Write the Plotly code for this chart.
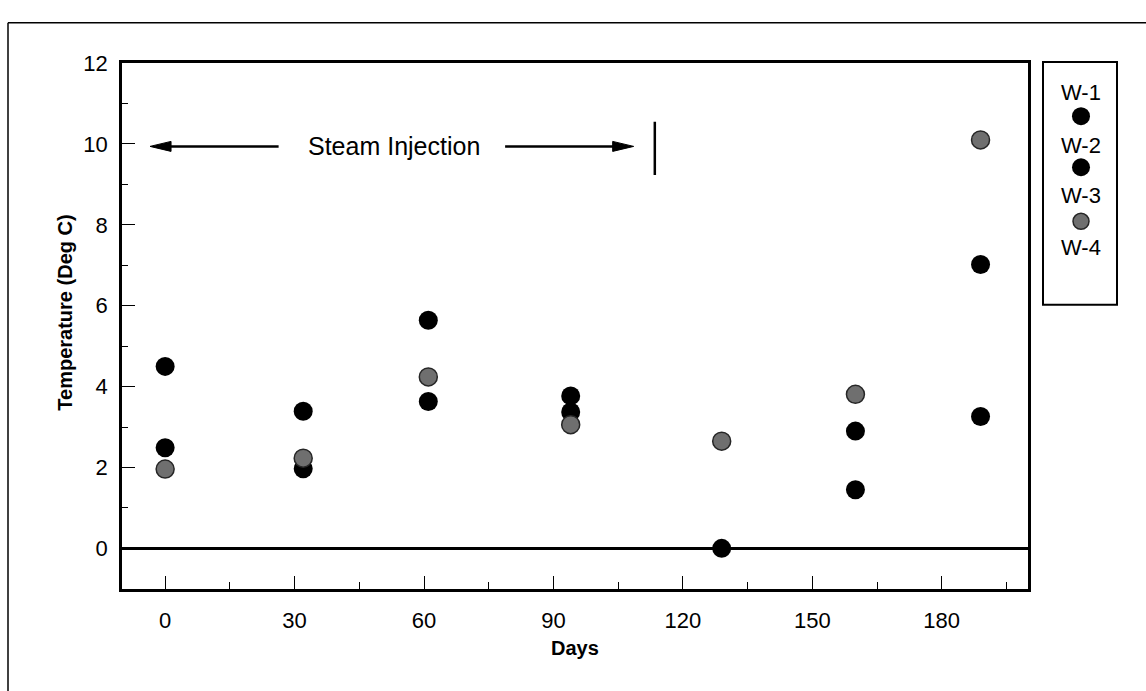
import plotly.graph_objects as go

# Temperature readings at each sampling day, per well
days = [0, 32, 61, 94, 129, 160, 189]
w1 = [4.50, 3.39, 5.64, 3.77, 0.0, 2.90, 7.02]
w2 = [2.49, 1.97, 3.63, 3.37, None, 1.45, 3.26]
w3 = [1.96, 2.23, 4.24, 3.06, 2.65, 3.81, 10.10]
well_names = ["W-1", "W-2", "W-3", "W-4"]
x_ticks = [0, 30, 60, 90, 120, 150, 180]
y_ticks = [0, 2, 4, 6, 8, 10, 12]

# steam injection period marker (days, temperature level)
steam_start, steam_end, steam_bar = -3.5, 108.6, 113.5
steam_level = 9.94

W, H = 1146, 691
FONT = "Liberation Sans, Arial, Helvetica, sans-serif"


def px(x):
    return x / W


def py(y):
    return 1 - y / H


BLACK = "#000000"
GREY = "#6f6f6f"
RIM = "#262626"

fig = go.Figure()

fig.add_trace(go.Scatter(x=days, y=w1, mode="markers", name=well_names[0],
                         marker=dict(size=19, color=BLACK, opacity=1, line=dict(width=0)),
                         cliponaxis=False, showlegend=False))
fig.add_trace(go.Scatter(x=days, y=w2, mode="markers", name=well_names[1],
                         marker=dict(size=19, color=BLACK, opacity=1, line=dict(width=0)),
                         cliponaxis=False, showlegend=False))
fig.add_trace(go.Scatter(x=days, y=w3, mode="markers", name=well_names[2],
                         marker=dict(size=18, color=GREY, opacity=1,
                                     line=dict(width=1.5, color=RIM)),
                         cliponaxis=False, showlegend=False))

# legend key markers, laid out in the legend box (pixel units)
fig.add_trace(go.Scatter(x=[1081, 1081, 1081], y=[106, 158, 213], mode="markers",
                         marker=dict(size=[18, 18, 16], color=[BLACK, BLACK, GREY],
                                     opacity=1,
                                     line=dict(width=[0, 0, 1.5], color=RIM)),
                         xaxis="x2", yaxis="y2", showlegend=False, hoverinfo="skip"))

axis_common = dict(showline=True, linecolor=BLACK, linewidth=2.5, mirror=True,
                   showgrid=False, ticks="inside", tickcolor=BLACK, tickwidth=1,
                   tickfont=dict(family=FONT, size=22, color=BLACK))

fig.update_layout(
    width=W, height=H,
    margin=dict(l=0, r=0, t=0, b=0),
    paper_bgcolor="white", plot_bgcolor="white",
    showlegend=False,
    xaxis=dict(domain=[px(122), px(1028)], range=[-10, 200],
               tickvals=x_ticks, ticklen=13,
               minor=dict(ticks="inside", ticklen=7, dtick=15, tick0=0,
                          tickcolor=BLACK, tickwidth=1),
               ticklabelstandoff=10, zeroline=False,
               anchor="y", **axis_common),
    yaxis=dict(domain=[py(587), py(52)], range=[-1, 12],
               tickvals=y_ticks, ticklen=13,
               minor=dict(ticks="inside", ticklen=6, dtick=1, tick0=0,
                          tickcolor=BLACK, tickwidth=1),
               ticklabelstandoff=7,
               zeroline=True, zerolinecolor=BLACK, zerolinewidth=2.5,
               anchor="x", **axis_common),
    xaxis2=dict(domain=[px(1043), px(1117)], range=[1043, 1117], visible=False,
                anchor="y2", fixedrange=True),
    yaxis2=dict(domain=[py(298), py(51)], range=[298, 51], visible=False,
                anchor="x2", fixedrange=True),
)

shapes = []
# outer page frame (top and left edges)
shapes.append(dict(type="line", xref="paper", yref="paper",
                   x0=px(8), x1=1.0, y0=py(11), y1=py(11),
                   line=dict(color=BLACK, width=1.5)))
shapes.append(dict(type="line", xref="paper", yref="paper",
                   x0=px(8), x1=px(8), y0=py(11), y1=0,
                   line=dict(color=BLACK, width=1.5)))
# legend box
shapes.append(dict(type="rect", xref="paper", yref="paper",
                   x0=px(1043), x1=px(1117), y0=py(298), y1=py(51),
                   line=dict(color=BLACK, width=2), fillcolor="rgba(0,0,0,0)"))

# steam injection arrows: shafts
shapes.append(dict(type="line", xref="x", yref="y",
                   x0=steam_start + 3, x1=26.3, y0=steam_level, y1=steam_level,
                   line=dict(color=BLACK, width=2.5)))
shapes.append(dict(type="line", xref="x", yref="y",
                   x0=78.8, x1=steam_end - 3, y0=steam_level, y1=steam_level,
                   line=dict(color=BLACK, width=2.5)))
# arrowheads (pixel-sized triangles anchored at the tips)
shapes.append(dict(type="path", xref="x", yref="y",
                   xsizemode="pixel", ysizemode="pixel",
                   xanchor=steam_start, yanchor=steam_level,
                   path="M0,0 L21,5 L21,-5 Z",
                   fillcolor=BLACK, line=dict(color=BLACK, width=1)))
shapes.append(dict(type="path", xref="x", yref="y",
                   xsizemode="pixel", ysizemode="pixel",
                   xanchor=steam_end, yanchor=steam_level,
                   path="M0,0 L-21,5 L-21,-5 Z",
                   fillcolor=BLACK, line=dict(color=BLACK, width=1)))
# end-of-injection bar
shapes.append(dict(type="line", xref="x", yref="y",
                   x0=steam_bar, x1=steam_bar, y0=9.23, y1=10.55,
                   line=dict(color=BLACK, width=2.5)))
fig.update_layout(shapes=shapes)

annotations = [
    dict(x=53.1, y=steam_level, xref="x", yref="y", text="Steam Injection",
         xanchor="center", yanchor="middle",
         showarrow=False, font=dict(family=FONT, size=25, color=BLACK)),
    dict(x=px(575), y=py(647), xref="paper", yref="paper", text="<b>Days</b>",
         xanchor="center", yanchor="middle",
         showarrow=False, font=dict(family=FONT, size=20, color=BLACK)),
    dict(x=px(65), y=py(306), xref="paper", yref="paper",
         text="<b>Temperature (Deg C)</b>", textangle=-90,
         xanchor="center", yanchor="middle",
         showarrow=False, font=dict(family=FONT, size=20, color=BLACK)),
]
for name, yy in zip(well_names, [82, 136, 187, 240]):
    annotations.append(dict(x=px(1081), y=py(yy), xref="paper", yref="paper",
                            text=name, showarrow=False,
                            xanchor="center", yanchor="middle",
                            font=dict(family=FONT, size=22, color=BLACK)))
fig.update_layout(annotations=annotations)

fig.write_html("out.html")
